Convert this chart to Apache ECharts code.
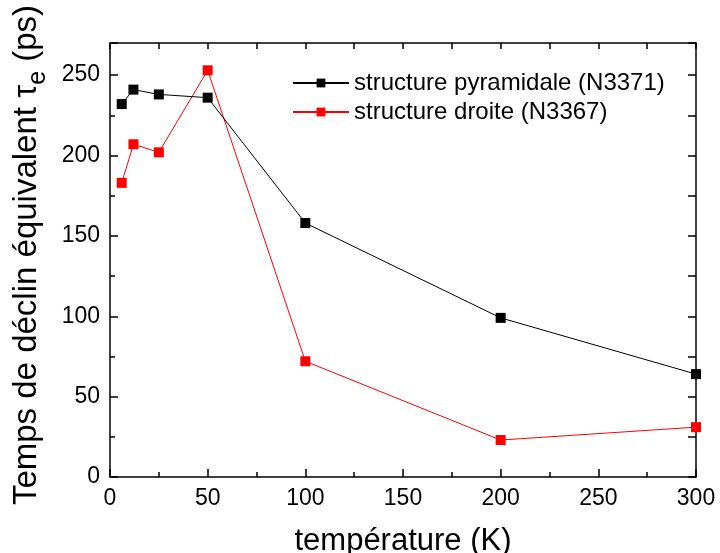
<!DOCTYPE html>
<html>
<head>
<meta charset="utf-8">
<script src="https://cdn.jsdelivr.net/npm/echarts@6/dist/echarts.min.js"></script>
<style>
  html, body { margin: 0; padding: 0; background: #fff; }
  #main { width: 720px; height: 553px; }
</style>
</head>
<body>
<div id="main"></div>
<script>
// temperatures (K)
const temperatures = [6, 12, 25, 50, 100, 200, 300];
// structure pyramidale (N3371)
const pyramidale = [232, 241, 238, 236, 158, 99, 64];
// structure droite (N3367)
const droite = [183, 207, 202, 253, 72, 23, 31];

const seriesNames = ["structure pyramidale (N3371)", "structure droite (N3367)"];

const font = "Liberation Sans, Arial, sans-serif";

function pairs(xs, ys) {
    return xs.map((x, i) => [x, ys[i]]);
}

const chart = echarts.init(document.getElementById("main"));

const axisLine = { show: true, onZero: false, lineStyle: { color: "#000", width: 1.5 } };

//图表配置
let options = {
    animation: false,
    textStyle: { fontFamily: font },
    grid: { left: 110, right: 24, top: 43, bottom: 76, outerBoundsMode: "none", containLabel: false },
    legend: {
        left: 287,
        top: 66,
        orient: "vertical",
        itemWidth: 56,
        itemHeight: 11,
        itemGap: 5,
        textStyle: { fontSize: 24, color: "#000", fontFamily: font },
        data: seriesNames,
    },
    xAxis: [
        {
            type: "value",
            min: 0,
            max: 300,
            interval: 50,
            name: "température (K)",
            nameLocation: "middle",
            nameGap: 49,
            nameTextStyle: { fontSize: 31, color: "#000", fontFamily: font },
            axisLine: axisLine,
            axisTick: { show: true, inside: true, length: 8, lineStyle: { color: "#000", width: 1.5 } },
            minorTick: { show: true, splitNumber: 2, length: 5, lineStyle: { color: "#000", width: 1.5 } },
            axisLabel: { fontSize: 23, color: "#000", margin: 10 },
            splitLine: { show: false },
        },
        {
            type: "value",
            position: "top",
            min: 0,
            max: 300,
            interval: 25,
            axisLine: axisLine,
            axisTick: { show: true, inside: true, length: 6, lineStyle: { color: "#000", width: 1.5 } },
            axisLabel: { show: false },
            splitLine: { show: false },
        },
    ],
    yAxis: [
        {
            type: "value",
            min: 0,
            max: 270,
            interval: 50,
            name: "Temps de déclin équivalent τ{sub|e} (ps)",
            nameLocation: "middle",
            nameRotate: 90,
            nameGap: 54,
            nameTextStyle: {
                fontSize: 33,
                color: "#000",
                fontFamily: font,
                lineHeight: 36,
                padding: [0, 0, 0, 10],
                rich: {
                    sub: { fontSize: 25, lineHeight: 47, verticalAlign: "bottom", fontFamily: font, color: "#000" },
                },
            },
            axisLine: axisLine,
            axisTick: { show: true, inside: true, length: 8, lineStyle: { color: "#000", width: 1.5 } },
            minorTick: { show: true, splitNumber: 2, length: 5, lineStyle: { color: "#000", width: 1.5 } },
            axisLabel: { fontSize: 23, color: "#000", margin: 10, showMaxLabel: false },
            splitLine: { show: false },
        },
        {
            type: "value",
            position: "right",
            min: 0,
            max: 270,
            interval: 25,
            axisLine: axisLine,
            axisTick: { show: true, inside: true, length: 8, lineStyle: { color: "#000", width: 1.5 } },
            axisLabel: { show: false },
            splitLine: { show: false },
        },
    ],
    series: [
        {
            name: seriesNames[0],
            type: "line",
            data: pairs(temperatures, pyramidale),
            symbol: "rect",
            symbolSize: 10,
            lineStyle: { color: "#000", width: 1 },
            itemStyle: { color: "#000" },
            z: 3,
        },
        {
            name: seriesNames[1],
            type: "line",
            data: pairs(temperatures, droite),
            symbol: "rect",
            symbolSize: 10,
            lineStyle: { color: "#ff0000", width: 1 },
            itemStyle: { color: "#ff0000" },
            z: 2,
        },
    ],
};
//渲染图表
chart.setOption(options);
</script>
</body>
</html>
